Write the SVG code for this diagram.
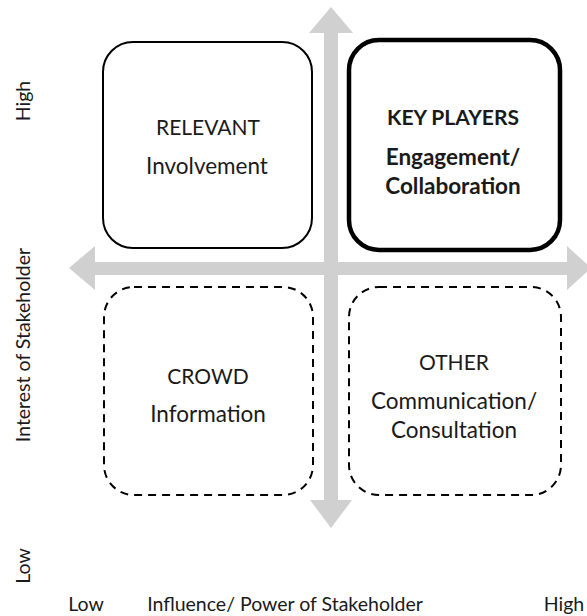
<svg xmlns="http://www.w3.org/2000/svg" width="587" height="616" viewBox="0 0 587 616">
<style>
.t{font-family:Lato,"Open Sans","Liberation Sans",sans-serif;fill:#1a1a1a;text-anchor:middle}
.cap{font-size:21px}
.low{font-size:22.5px}
.b{font-weight:bold}
.ax{font-size:19.5px}
.box{fill:#fff;stroke:#000;stroke-width:2}
.dash{fill:none;stroke:#000;stroke-width:2;stroke-dasharray:8,6}
.arrow{fill:#d0d0d0}
</style>
<rect width="587" height="616" fill="#fff"/>
<g id="connectors">
<polygon class="arrow" points="324,528 324,33 309,33 331,7 353,33 338,33 338,500 352,500 331,528 310,500 324,500"/>
<polygon class="arrow" points="95,262 95,246 69,268 95,290 95,275 567,275 567,290 591,268 567,246 567,262"/>
</g>
<g id="relevant">
<rect class="box" x="103" y="42" width="209" height="206" rx="30"/>
<text class="t cap" x="208" y="135">RELEVANT</text>
<text class="t low" x="207" y="174">Involvement</text>
</g>
<g id="keyplayers">
<rect class="box" x="349" y="40" width="211" height="210" rx="30" style="stroke-width:4.5"/>
<text class="t cap b" x="453" y="125">KEY PLAYERS</text>
<text class="t low b" x="453" y="165">Engagement/</text>
<text class="t low b" x="453" y="194">Collaboration</text>
</g>
<g id="crowd">
<rect class="dash" x="104" y="287" width="209" height="208" rx="30"/>
<text class="t cap" x="208" y="384">CROWD</text>
<text class="t low" x="208" y="422">Information</text>
</g>
<g id="other">
<rect class="dash" x="349" y="287" width="212" height="208" rx="30"/>
<text class="t cap" x="454" y="370">OTHER</text>
<text class="t low" x="454" y="409">Communication/</text>
<text class="t low" x="454" y="438">Consultation</text>
</g>
<g id="axes">
<text class="t ax" transform="translate(30,101) rotate(-90)">High</text>
<text class="t ax" transform="translate(30,345) rotate(-90)">Interest of Stakeholder</text>
<text class="t ax" transform="translate(30,566) rotate(-90)">Low</text>
<text class="t ax" x="86" y="611">Low</text>
<text class="t ax" x="285" y="611">Influence/ Power of Stakeholder</text>
<text class="t ax" x="564" y="611">High</text>
</g>
</svg>
